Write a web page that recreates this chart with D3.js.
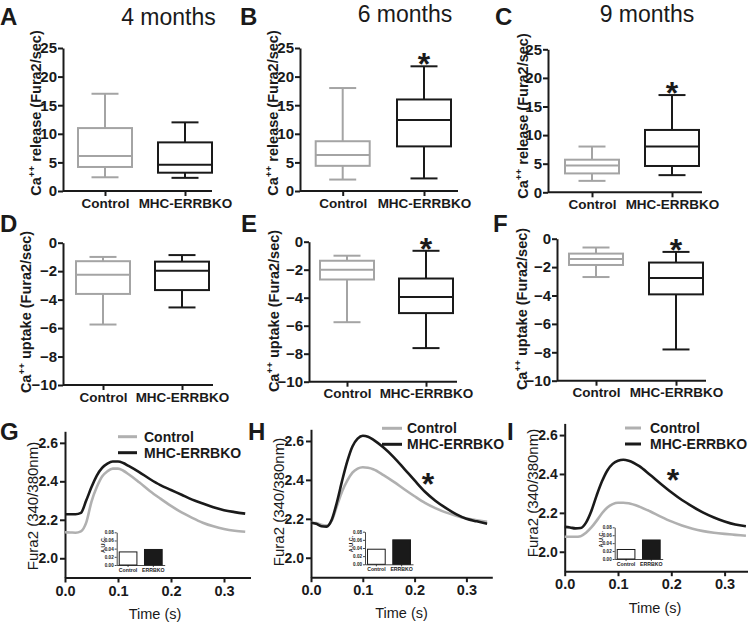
<!DOCTYPE html>
<html><head><meta charset="utf-8">
<script src="https://cdn.jsdelivr.net/npm/d3@7"></script>
<style>
body{margin:0;background:#fff;}
svg{display:block;font-family:"Liberation Sans",Arial,Helvetica,sans-serif;}
</style></head><body>
<svg id="c" width="748" height="625"></svg>
<script>
// ---------- DATA ----------
const categories = ["Control", "MHC-ERRBKO"];
const insetCategories = ["Control", "ERRBKO"];
const ageTitles = ["4 months", "6 months", "9 months"];
const panelLetters = ["A","B","C","D","E","F","G","H","I"];
const releaseTicks = [0, 5, 10, 15, 20, 25];
const uptakeTicks = [0, -2, -4, -6, -8, -10];
const fura2Ticks = [2.0, 2.2, 2.4, 2.6];
const timeTicks = [0.0, 0.1, 0.2, 0.3];
const aucTicks = [0, 0.02, 0.04, 0.06, 0.08];

// box stats: [min, q1, median, q3, max]
const release4Control = [2.4, 4.2, 6.1, 11.0, 17.0];
const release4MHC     = [2.3, 3.2, 4.6, 8.5, 12.0];
const release6Control = [2.0, 4.4, 6.3, 8.7, 18.0];
const release6MHC     = [2.2, 7.8, 12.4, 16.0, 21.8];
const release9Control = [2.0, 3.3, 4.7, 5.7, 8.0];
const release9MHC     = [3.0, 4.6, 8.0, 10.9, 17.0];
const uptake4Control  = [-5.75, -3.6, -2.25, -1.3, -1.0];
const uptake4MHC      = [-4.55, -3.33, -1.97, -1.33, -0.87];
const uptake6Control  = [-5.75, -2.7, -2.0, -1.36, -1.0];
const uptake6MHC      = [-7.6, -5.1, -3.95, -2.63, -0.65];
const uptake9Control  = [-2.7, -1.85, -1.43, -1.05, -0.62];
const uptake9MHC      = [-7.8, -3.92, -2.77, -1.68, -0.93];
const significant = [false, true, true, false, true, true];

// Fura2 transients (340/380 ratio) sampled at these times (s)
const time = [0,0.01,0.02,0.03,0.04,0.05,0.06,0.07,0.08,0.09,0.10,0.11,0.12,0.14,0.16,0.18,0.20,0.22,0.24,0.26,0.28,0.30,0.32,0.34];
const fura4Control = [2.135,2.134,2.133,2.140,2.185,2.295,2.370,2.425,2.452,2.466,2.466,2.455,2.437,2.395,2.350,2.310,2.272,2.238,2.210,2.185,2.166,2.152,2.143,2.138];
const fura4MHC     = [2.229,2.229,2.229,2.236,2.300,2.370,2.430,2.470,2.492,2.503,2.503,2.495,2.480,2.448,2.412,2.380,2.355,2.330,2.305,2.285,2.265,2.250,2.240,2.232];
const fura6Control = [2.180,2.178,2.170,2.165,2.190,2.265,2.340,2.396,2.437,2.458,2.465,2.462,2.455,2.425,2.390,2.352,2.316,2.282,2.255,2.233,2.216,2.202,2.193,2.185];
const fura6MHC     = [2.180,2.175,2.162,2.160,2.195,2.285,2.395,2.495,2.572,2.612,2.627,2.622,2.607,2.566,2.516,2.457,2.397,2.339,2.293,2.256,2.224,2.200,2.187,2.175];
const fura9Control = [2.077,2.077,2.077,2.080,2.098,2.125,2.160,2.198,2.228,2.245,2.252,2.252,2.249,2.232,2.208,2.181,2.156,2.135,2.118,2.106,2.098,2.092,2.087,2.082];
const fura9MHC     = [2.128,2.125,2.120,2.122,2.150,2.210,2.290,2.362,2.418,2.452,2.468,2.473,2.468,2.440,2.396,2.350,2.306,2.266,2.232,2.201,2.176,2.156,2.140,2.131];
const auc4 = [0.032, 0.038];
const auc6 = [0.037, 0.060];
const auc9 = [0.024, 0.048];
const transientSignificant = [false, true, true];

// ---------- STYLE / LAYOUT ----------
const INK = "#1a1a1a", GRAY = "#a4a4a4", LGRAY = "#b0b0b0";
const svg = d3.select("#c");

function styleAxis(g, fs, sw) {
  g.selectAll("path.domain").attr("stroke", INK).attr("stroke-width", sw);
  g.selectAll(".tick line").attr("stroke", INK).attr("stroke-width", sw);
  g.selectAll(".tick text").attr("fill", INK).style("font-size", fs + "px").style("font-weight", "bold").style("font-family", '"Liberation Sans",Arial,sans-serif');
}

function rotLabel(x, y, fs, parts, weight) {
  const t = svg.append("text").attr("transform", `translate(${x},${y}) rotate(-90)`)
    .attr("text-anchor", "middle").attr("fill", INK)
    .style("font-size", fs + "px").style("font-weight", weight);
  parts.forEach(p => {
    const s = t.append("tspan").text(p.t);
    if (p.sup) s.attr("dy", -6).style("font-size", (fs * 0.68) + "px");
    if (p.down) s.attr("dy", 6);
  });
}

const boxLayouts = [
  {x0:63,  w:149, c1:42,   c2:122, yb:191,   yt:48,   lx:41,  ly:113, L:[0,25]},
  {x0:300, w:158, c1:42.7, c2:124, yb:191,   yt:48,   lx:278, ly:113, L:[240,25]},
  {x0:548, w:154, c1:44,   c2:124, yb:192.3, yt:49.3, lx:528, ly:116, L:[495,25]},
  {x0:63,  w:150, c1:40,   c2:119, yb:385,   yt:242.7,lx:31,  ly:312, L:[0,232]},
  {x0:309, w:148, c1:38,   c2:117, yb:381.7, yt:241.7,lx:279, ly:311, L:[241,232]},
  {x0:557, w:149, c1:39,   c2:119, yb:380.7, yt:238.7,lx:527, ly:309, L:[493,232]}
];
const boxData = [
  [release4Control, release4MHC], [release6Control, release6MHC], [release9Control, release9MHC],
  [uptake4Control, uptake4MHC], [uptake6Control, uptake6MHC], [uptake9Control, uptake9MHC]
];

boxData.forEach((pair, i) => {
  const L = boxLayouts[i];
  const isRelease = i < 3;
  const x = d3.scalePoint().domain(categories).range([L.x0 + L.c1, L.x0 + L.c2]);
  const y = d3.scaleLinear().domain(isRelease ? [0, 25] : [-10, 0]).range([L.yb, L.yt]);
  const ya = svg.append("g").attr("transform", `translate(${L.x0},0)`)
    .call(d3.axisLeft(y).tickValues(isRelease ? releaseTicks : uptakeTicks).tickSize(5).tickPadding(1).tickSizeOuter(0));
  styleAxis(ya, 15, 2);
  const xa = svg.append("g").attr("transform", `translate(0,${L.yb})`)
    .call(d3.axisBottom(x).tickSize(5).tickPadding(2).tickSizeOuter(0));
  xa.select("path.domain").attr("d", `M${L.x0},0H${L.x0 + L.w}`);
  styleAxis(xa, 13.5, 2);

  const bw = 54;
  pair.forEach((s, k) => {
    const cx = x(categories[k]);
    const col = k === 0 ? GRAY : INK;
    const g = svg.append("g").attr("stroke", col).attr("stroke-width", 2).attr("fill", "none");
    g.append("line").attr("x1", cx).attr("x2", cx).attr("y1", y(s[3])).attr("y2", y(s[4]));
    g.append("line").attr("x1", cx).attr("x2", cx).attr("y1", y(s[1])).attr("y2", y(s[0]));
    g.append("line").attr("x1", cx - bw / 4).attr("x2", cx + bw / 4).attr("y1", y(s[4])).attr("y2", y(s[4]));
    g.append("line").attr("x1", cx - bw / 4).attr("x2", cx + bw / 4).attr("y1", y(s[0])).attr("y2", y(s[0]));
    g.append("rect").attr("x", cx - bw / 2).attr("y", y(s[3])).attr("width", bw).attr("height", y(s[1]) - y(s[3])).attr("fill", "#fff");
    g.append("line").attr("x1", cx - bw / 2).attr("x2", cx + bw / 2).attr("y1", y(s[2])).attr("y2", y(s[2]));
  });
  if (significant[i]) {
    const s = pair[1];
    svg.append("text").attr("x", x(categories[1])).attr("y", y(s[4]) - 9 + 18)
      .attr("text-anchor", "middle").attr("fill", INK).style("font-size", "32px").style("font-weight", "bold").text("*");
  }
  rotLabel(L.lx, L.ly, 14.5, isRelease
    ? [{t:"Ca"}, {t:"++", sup:true}, {t:" release (Fura2/sec)", down:true}]
    : [{t:"Ca"}, {t:"++", sup:true}, {t:" uptake (Fura2/sec)", down:true}], "bold");
  svg.append("text").attr("x", L.L[0]).attr("y", L.L[1]).attr("fill", INK)
    .style("font-size", "24px").style("font-weight", "bold").text(panelLetters[i]);
});

// titles
const titlePos = [[168.5, 25], [405, 22], [647, 22]];
ageTitles.forEach((t, i) => {
  svg.append("text").attr("x", titlePos[i][0]).attr("y", titlePos[i][1]).attr("text-anchor", "middle")
    .attr("fill", INK).style("font-size", "23px").text(t);
});

// ---------- transients ----------
const lineLayouts = [
  {x0:65,    px:53,   yb:577.5, yt:431.3, lx:38,  ly:506, L:[0,440],   leg:[118,137,144,436.7], star:null,
   ins:{x0:116.7, yb:565, yt:532.3}, tx:155, ty:619, tickY:595},
  {x0:311,   px:51.8, yb:577.2, yt:429.3, lx:284, ly:502, L:[248,440], leg:[382,402,407,428.3], star:[428,477],
   ins:{x0:365, yb:564.3, yt:531.7}, tx:401.5, ty:618, tickY:595},
  {x0:564.7, px:53.3, yb:571.2, yt:423.4, lx:538, ly:493, L:[507,440], leg:[625,641,650,428], star:[673,473],
   ins:{x0:614.7, yb:559, yt:527.3}, tx:655, ty:613, tickY:588}
];
const lineData = [[fura4Control, fura4MHC, auc4], [fura6Control, fura6MHC, auc6], [fura9Control, fura9MHC, auc9]];

lineData.forEach((d, i) => {
  const L = lineLayouts[i];
  const x = d3.scaleLinear().domain([0, 0.35]).range([L.x0, L.x0 + L.px * 3.5]);
  const y = d3.scaleLinear().domain([1.9, 2.66]).range([L.yb, L.yt]);
  const ya = svg.append("g").attr("transform", `translate(${L.x0},0)`)
    .call(d3.axisLeft(y).tickValues(fura2Ticks).tickFormat(d3.format(".1f")).tickSize(5).tickPadding(2).tickSizeOuter(0));
  styleAxis(ya, 14, 2);
  const xa = svg.append("g").attr("transform", `translate(0,${L.yb})`)
    .call(d3.axisBottom(x).tickValues(timeTicks).tickFormat(d3.format(".1f")).tickSize(5).tickPadding(3).tickSizeOuter(0));
  styleAxis(xa, 14.5, 2);

  const line = d3.line().x((v, j) => x(time[j])).y(v => y(v)).curve(d3.curveMonotoneX);
  svg.append("path").datum(d[0]).attr("d", line).attr("fill", "none").attr("stroke", LGRAY).attr("stroke-width", 2.6);
  svg.append("path").datum(d[1]).attr("d", line).attr("fill", "none").attr("stroke", INK).attr("stroke-width", 2.6);

  // legend
  const lg = L.leg;
  [LGRAY, INK].forEach((c, k) => {
    const yy = lg[3] + k * 16;
    svg.append("line").attr("x1", lg[0]).attr("x2", lg[1]).attr("y1", yy).attr("y2", yy).attr("stroke", c).attr("stroke-width", 3);
    svg.append("text").attr("x", lg[2]).attr("y", yy + 5).attr("fill", INK)
      .style("font-size", "14px").style("font-weight", "bold").text(categories[k]);
  });
  if (transientSignificant[i]) {
    svg.append("text").attr("x", L.star[0]).attr("y", L.star[1] + 18).attr("text-anchor", "middle")
      .attr("fill", INK).style("font-size", "32px").style("font-weight", "bold").text("*");
  }
  rotLabel(L.lx, L.ly, 15, [{t:"Fura2 (340/380nm)"}], "normal");
  svg.append("text").attr("x", L.tx).attr("y", L.ty).attr("text-anchor", "middle").attr("fill", INK)
    .style("font-size", "14.5px").text("Time (s)");
  svg.append("text").attr("x", L.L[0]).attr("y", L.L[1]).attr("fill", INK)
    .style("font-size", "24px").style("font-weight", "bold").text(panelLetters[6 + i]);

  // inset AUC bar chart
  const I = L.ins;
  const xi = d3.scaleBand().domain(insetCategories).range([I.x0, I.x0 + 48]).paddingInner(0.3).paddingOuter(0.1);
  const yi = d3.scaleLinear().domain([0, 0.08]).range([I.yb, I.yt]);
  const iya = svg.append("g").attr("transform", `translate(${I.x0},0)`)
    .call(d3.axisLeft(yi).tickValues(aucTicks).tickFormat(d3.format(".2f")).tickSize(2).tickPadding(1).tickSizeOuter(0));
  styleAxis(iya, 4.6, 0.8);
  const ixa = svg.append("g").attr("transform", `translate(0,${I.yb})`)
    .call(d3.axisBottom(xi).tickSize(2).tickPadding(1).tickSizeOuter(0));
  styleAxis(ixa, 5.2, 0.8);
  d[2].forEach((v, k) => {
    svg.append("rect").attr("x", xi(insetCategories[k])).attr("y", yi(v))
      .attr("width", xi.bandwidth()).attr("height", yi(0) - yi(v))
      .attr("fill", k === 0 ? "#fff" : INK).attr("stroke", INK).attr("stroke-width", 1);
  });
  svg.append("text").attr("transform", `translate(${I.x0 - 12},${(I.yb + I.yt) / 2 - 4}) rotate(-90)`)
    .attr("text-anchor", "middle").attr("fill", INK).style("font-size", "5.5px").style("font-weight", "bold").text("A.U.C.");
});
</script>
</body></html>
